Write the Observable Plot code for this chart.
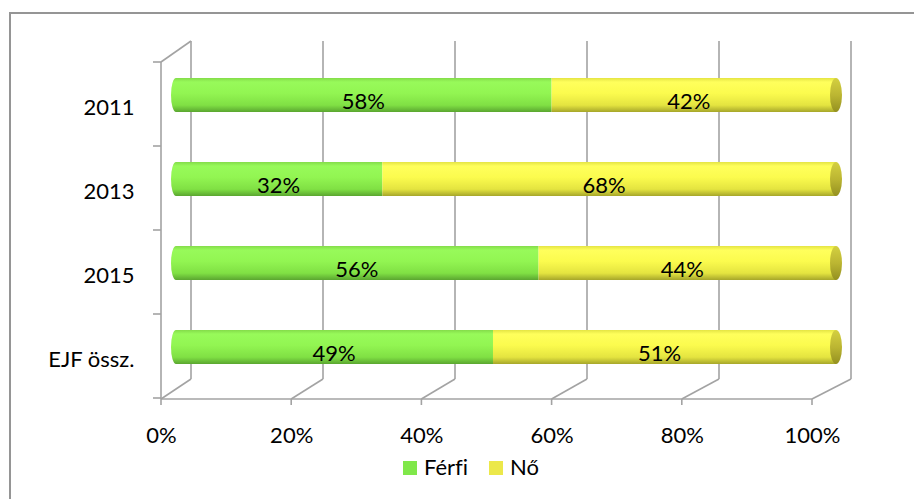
<!DOCTYPE html>
<html>
<head>
<meta charset="utf-8">
<script src="https://cdn.jsdelivr.net/npm/d3@7"></script>
<script src="https://cdn.jsdelivr.net/npm/@observablehq/plot@0.6"></script>
<style>
  html, body { margin: 0; padding: 0; background: #fff; overflow: hidden; }
  #wrap { position: relative; width: 914px; height: 499px; font-family: Lato, "Liberation Sans", sans-serif; font-variant-ligatures: none; }
  #frame { position: absolute; left: 9px; top: 12px; width: 2000px; height: 2000px;
           border-top: 2px solid #959595; border-left: 2px solid #959595; }
  #chart { position: absolute; left: 0; top: 0; }
  #chart svg text { font-variant-ligatures: none; }
  .lg-sq { position: absolute; width: 14px; height: 14px; top: 461px; }
  .lg-tx { position: absolute; top: 454px; font-size: 22px; line-height: 26px; color: #000; }
</style>
</head>
<body>
<div id="wrap">
  <div id="frame"></div>
  <div id="chart"></div>
  <div id="legend"></div>
</div>
<script>
// ---- data ----
const categories = ["2011", "2013", "2015", "EJF össz."];
const series = ["Férfi", "Nő"];
const ferfi = [0.58, 0.32, 0.56, 0.49];
const no = [0.42, 0.68, 0.44, 0.51];
const xTicks = [0, 0.2, 0.4, 0.6, 0.8, 1];
const legendColors = ["#80e84a", "#ece84a"];

// ---- build table ----
const rowsF = categories.map((c, i) => ({cat: c, series: series[0], value: ferfi[i], x1: 0, x2: ferfi[i]}));
const rowsN = categories.map((c, i) => ({cat: c, series: series[1], value: no[i], x1: ferfi[i], x2: ferfi[i] + no[i]}));
const rows = rowsF.concat(rowsN);
const pct = d3.format(".0%");

const BAR_DX = 13, BAR_DY = -10, FS = 22;
const chart = Plot.plot({
  width: 914, height: 499,
  marginLeft: 161, marginRight: 102, marginTop: 62, marginBottom: 100,
  style: {fontFamily: "Lato, 'Liberation Sans', sans-serif", fontSize: FS + "px", color: "#000", background: "transparent", overflow: "visible"},
  x: {domain: [0, 1], axis: null, label: null},
  y: {domain: categories, padding: 0, axis: null, label: null},
  color: {domain: series, range: ["url(#gF)", "url(#gN)"]},
  marks: [
    Plot.barX(rowsF, {x1: "x1", x2: "x2", y: "cat", fill: "series", dx: BAR_DX, dy: BAR_DY, insetTop: 25, insetBottom: 25, insetLeft: 2}),
    Plot.barX(rowsN, {x1: "x1", x2: "x2", y: "cat", fill: "series", dx: BAR_DX, dy: BAR_DY, insetTop: 25, insetBottom: 25, insetRight: -11}),
    Plot.text(rows, {x: d => (d.x1 + d.x2) / 2, y: "cat", text: d => pct(d.value), dx: BAR_DX, dy: -4, fill: "#000", fontSize: FS}),
    Plot.axisX({ticks: xTicks, tickFormat: pct, tickSize: 0, tickPadding: 28, fontSize: FS, fill: "#000", label: null}),
    Plot.axisY({tickSize: 0, tickPadding: 27, fontSize: FS, fill: "#000", dy: 2, label: null})
  ]
});
document.getElementById("chart").appendChild(chart);

// ---- gradients & 3D decorations ----
const svg = d3.select(chart);
const defs = svg.insert("defs", ":first-child");
function vgrad(id, stops) {
  const g = defs.append("linearGradient").attr("id", id).attr("x1", 0).attr("y1", 0).attr("x2", 0).attr("y2", 1);
  stops.forEach(([o, c]) => g.append("stop").attr("offset", o).attr("stop-color", c));
}
vgrad("gF", [[0, "#84dc4a"], [0.12, "#98fa5a"], [0.45, "#92f552"], [0.8, "#80e044"], [1, "#5aa630"]]);
vgrad("gN", [[0, "#e4e444"], [0.12, "#ffff5c"], [0.45, "#fbfb4e"], [0.8, "#e4e440"], [1, "#a6a62a"]]);
vgrad("gCap", [[0, "#d4d040"], [0.5, "#bcb632"], [1, "#949020"]]);

const sx = chart.scale("x").apply;
const ys = chart.scale("y");
const [yTop, yBot] = ys.range;
const step = ys.step;
const DEPTH_X = 30, DEPTH_Y = 21, BACK_STRETCH = 9;
const back = d3.scaleLinear([0, 1], [sx(0) + DEPTH_X, sx(1) + DEPTH_X + BACK_STRETCH]);
const backTop = yTop - DEPTH_Y, backBot = yBot - 20;

const decor = svg.insert("g", "g[aria-label='bar']")
  .attr("stroke", "#a3a3a3").attr("stroke-width", 1.6).attr("fill", "none");
const line = (x1, y1, x2, y2) => decor.append("line").attr("x1", x1).attr("y1", y1).attr("x2", x2).attr("y2", y2);
xTicks.forEach(t => {
  line(back(t), backTop, back(t), backBot);          // back wall gridline
  line(sx(t), yBot, back(t), backBot);               // floor diagonal
  line(sx(t), yBot, sx(t), yBot + 6);                // tick
});
line(sx(0), yBot, sx(1), yBot);                      // front floor edge
line(sx(0), yTop, sx(0), yBot);                      // front left axis
line(sx(0), yTop, back(0), backTop);                 // top-left diagonal
d3.range(categories.length + 1).forEach(i => {
  const y = yTop + i * step;
  line(sx(0) - 8, y, sx(0), y);
});

// left rounded ends (behind bars)
const caps = svg.insert("g", "g[aria-label='bar']");
categories.forEach(c => {
  const cy = ys.apply(c) + ys.bandwidth / 2 + BAR_DY;
  caps.append("ellipse").attr("cx", sx(0) + BAR_DX + 2).attr("cy", cy).attr("rx", 5).attr("ry", 17).attr("fill", "url(#gF)");
});
// right end faces (above bars)
const faces = svg.insert("g", "g[aria-label='text']");
categories.forEach(c => {
  const cy = ys.apply(c) + ys.bandwidth / 2 + BAR_DY;
  faces.append("ellipse").attr("cx", sx(1) + BAR_DX + 11).attr("cy", cy).attr("rx", 6).attr("ry", 17).attr("fill", "url(#gCap)");
});

// ---- legend ----
const lg = document.getElementById("legend");
const lgPos = [[403, 424], [489, 510]];
series.forEach((s, i) => {
  const sq = document.createElement("div");
  sq.className = "lg-sq"; sq.style.left = lgPos[i][0] + "px"; sq.style.background = legendColors[i];
  const tx = document.createElement("div");
  tx.className = "lg-tx"; tx.style.left = lgPos[i][1] + "px"; tx.textContent = s;
  lg.appendChild(sq); lg.appendChild(tx);
});
</script>
</body>
</html>
